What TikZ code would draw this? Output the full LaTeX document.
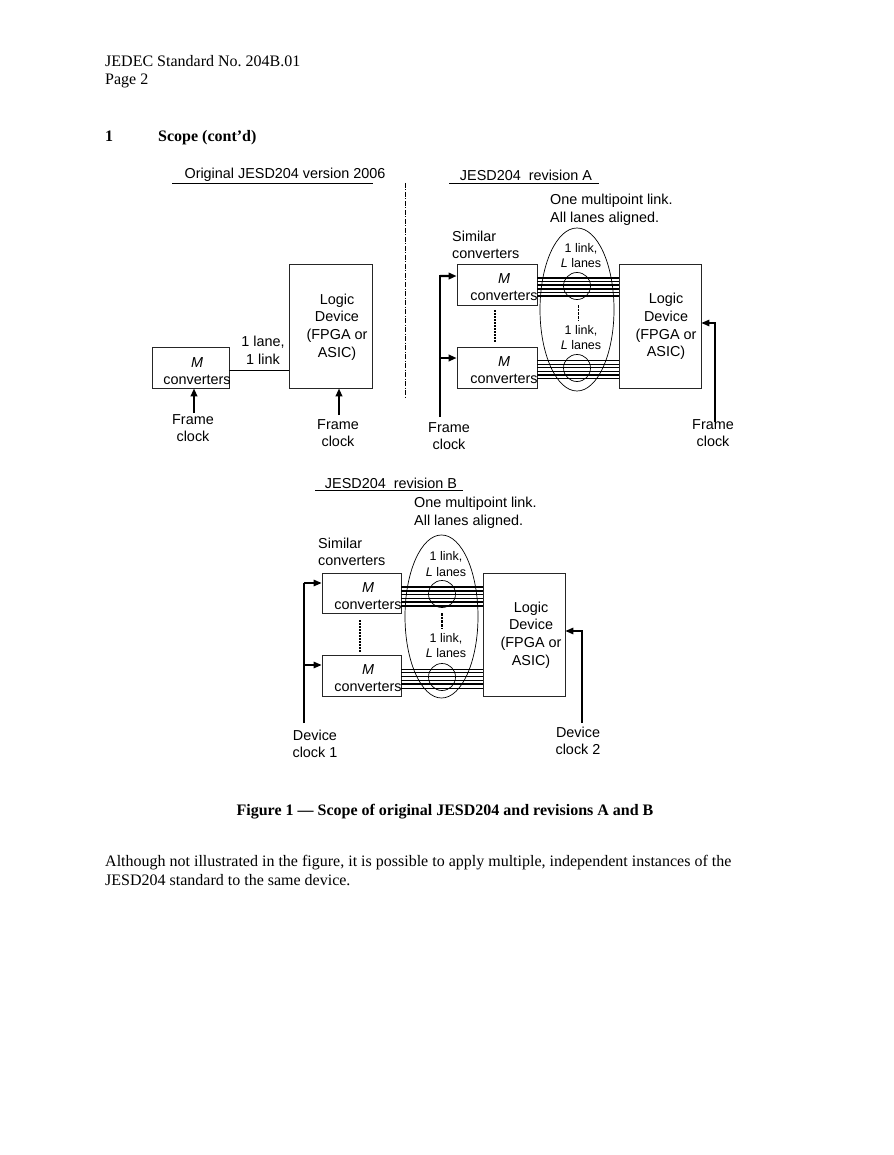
\documentclass[tikz,border=0pt]{standalone}
\usepackage{fontspec}
\setmainfont{Liberation Serif}
\newfontfamily\arialf{Liberation Sans}
\usetikzlibrary{arrows.meta,shapes.geometric}
\newcommand\dgm{\arialf\fontsize{14.4}{17.6}\selectfont}
\newcommand\dgs{\arialf\fontsize{12.5}{15.6}\selectfont}
\newcommand\serf{\fontsize{16}{19}\selectfont}
\frenchspacing
\begin{document}
\begin{tikzpicture}[x=1pt,y=-1pt,
  box/.style={draw=black!85, line width=0.8pt, inner sep=0},
  txt/.style={font=\dgm, align=center, inner sep=0},
  stxt/.style={font=\dgs, align=center, inner sep=0},
  lft/.style={font=\dgm, align=left, inner sep=0, anchor=west},
  ser/.style={font=\serf, inner sep=0, anchor=base west},
  tip/.style={-{Triangle[length=8pt,width=6.5pt]}},
  clkthick/.style={tip, line width=2.2pt},
  clkthin/.style={tip, line width=1.4pt},
  lane/.style={line width=1.5pt},
  lanethin/.style={line width=0.7pt},
  thinline/.style={line width=0.8pt},
  ell/.style={draw, line width=0.7pt},
  divider/.style={line width=1pt, dash pattern=on 5pt off 1.5pt on 1pt off 1.5pt},
  dotv/.style={line width=1.3pt, dash pattern=on 2pt off 1pt}
]
\path[use as bounding box, fill=white] (0,0) rectangle (893,1155);

% header
\node[ser] (h1) at (105,67) {JEDEC Standard No. 204B.01};
\node[ser] (h2) at (105,85) {Page 2};
\node[ser, font=\serf\bfseries] (s1) at (105,142) {1};
\node[ser, font=\serf\bfseries] (s2) at (158,142) {Scope (cont’d)};

% ---------------- Original ----------------
\node[txt] (tO) at (285,175) {Original JESD204 version 2006};
\coordinate (uO1) at (172,183); \coordinate (uO2) at (373,183);
\draw[thinline] (uO1) -- (uO2);

\node[box, minimum width=77pt, minimum height=41pt] (oM) at (190.4,367.5) {};
\node[txt] (oMt) at (197,371) {\itshape M\\converters};
\node[box, minimum width=83pt, minimum height=124pt] (oL) at (330.5,326) {};
\node[txt] (oLt) at (337,327) {Logic\\Device\\(FPGA or\\ASIC)};
\draw[thinline] (oM.east |- 0,370) -- (oL.west |- 0,370);
\node[txt] (oLink) at (263,350) {1 lane,\\1 link};

\node[txt] (oFc1) at (193,428) {Frame\\clock};
\node[txt] (oFc2) at (338,433) {Frame\\clock};
\coordinate (oa1) at (194,413); \coordinate (oa2) at (339,415);
\draw[clkthick] (oa1) -- (oa1 |- oM.south);
\draw[clkthick] (oa2) -- (oa2 |- oL.south);

% divider
\coordinate (d1) at (405,183); \coordinate (d2) at (405,398);
\draw[divider] (d1) -- (d2);

% ---------------- Revision A ----------------
\node[txt] (tA) at (526,175) {JESD204\ \ revision A};
\coordinate (uA1) at (449,183); \coordinate (uA2) at (599,183);
\draw[thinline] (uA1) -- (uA2);
\node[lft] (oneA) at (550,210) {One multipoint link.\\All lanes aligned.};
\node[lft] (simA) at (452,245) {Similar\\converters};

\node[box, minimum width=80pt, minimum height=41pt] (mA1) at (497,284.5) {};
\node[txt] (mA1t) at (504,287) {\itshape M\\converters};
\node[box, minimum width=80pt, minimum height=41pt] (mA2) at (497,367.5) {};
\node[txt] (mA2t) at (504,370) {\itshape M\\converters};
\draw[dotv] (495,310) -- (495,343);

\node[box, minimum width=82pt, minimum height=124pt] (LA) at (660,326) {};
\node[txt] (LAt) at (666,326.5) {Logic\\Device\\(FPGA or\\ASIC)};

\foreach \y in {278,281.6,285.2,288.8,292.4,296}
  \draw[lane] (mA1.east |- 0,\y) -- (LA.west |- 0,\y);
\foreach \y/\s in {360.5/lanethin,364.1/lanethin,367.7/lanethin,371.3/lanethin,374.9/lane,378.5/lane}
  \draw[\s] (mA2.east |- 0,\y) -- (LA.west |- 0,\y);

\node[ell, ellipse, minimum width=74pt, minimum height=163pt, inner sep=0] (eA) at (577,309.5) {};
\draw[ell] (577,286) circle[radius=13.5pt];
\draw[ell] (577,368) circle[radius=13.5pt];
\node[stxt] (kA1) at (581,255.5) {1 link,\\\itshape L\upshape\ lanes};
\node[stxt] (kA2) at (581,337.5) {1 link,\\\itshape L\upshape\ lanes};
\draw[line width=1pt, dash pattern=on 2.5pt off 1.2pt] (578,305) -- (578,321);

\coordinate (fA) at (440,417);
\draw[line width=2.2pt] (fA) -- (440,275);
\draw[clkthick] (440,276.1) -- (mA1.west |- 0,276);
\draw[clkthick] (440,358) -- (mA2.west |- 0,358);
\node[txt] (fAt) at (449,436) {Frame\\clock};

\coordinate (fA2) at (715,422);
\draw[clkthin] (fA2) |- (LA.east |- 0,323);
\node[txt] (fA2t) at (713,433) {Frame\\clock};

% ---------------- Revision B ----------------
\node[txt] (tB) at (391,483) {JESD204\ \ revision B};
\coordinate (uB1) at (315,490); \coordinate (uB2) at (463,490);
\draw[thinline] (uB1) -- (uB2);
\node[lft] (oneB) at (414,513) {One multipoint link.\\All lanes aligned.};
\node[lft] (simB) at (318,552) {Similar\\converters};

\node[box, minimum width=79pt, minimum height=40pt] (mB1) at (361.5,593) {};
\node[txt] (mB1t) at (368,596) {\itshape M\\converters};
\node[box, minimum width=79pt, minimum height=41pt] (mB2) at (361.5,675.5) {};
\node[txt] (mB2t) at (368,678) {\itshape M\\converters};
\draw[dotv] (360,620) -- (360,652);

\node[box, minimum width=82pt, minimum height=123pt] (LB) at (524,634.5) {};
\node[txt] (LBt) at (531,635) {Logic\\Device\\(FPGA or\\ASIC)};

\foreach \y in {587,590.8,594.6,598.4,602.2,606}
  \draw[lane] (mB1.east |- 0,\y) -- (LB.west |- 0,\y);
\foreach \y/\s in {669/lanethin,672.8/lanethin,676.6/lanethin,680.4/lane,684.2/lane,688/lanethin}
  \draw[\s] (mB2.east |- 0,\y) -- (LB.west |- 0,\y);

\node[ell, ellipse, minimum width=73pt, minimum height=163pt, inner sep=0] (eB) at (441.5,616.5) {};
\draw[ell] (442,594) circle[radius=13.5pt];
\draw[ell] (442,677) circle[radius=13.5pt];
\node[stxt] (kB1) at (446,564) {1 link,\\\itshape L\upshape\ lanes};
\node[stxt] (kB2) at (446,645.5) {1 link,\\\itshape L\upshape\ lanes};
\draw[line width=1.3pt, dash pattern=on 2.5pt off 1.2pt] (442,613) -- (442,629);

\coordinate (fB) at (304,723);
\draw[line width=1.3pt] (fB) -- (304,583);
\draw[clkthin] (303.5,583) -- (mB1.west |- 0,583);
\draw[clkthin] (303.5,665) -- (mB2.west |- 0,665);
\node[txt] (fBt) at (315,744) {Device\\clock 1};

\coordinate (fB2) at (582,723);
\draw[clkthin] (fB2) |- (LB.east |- 0,631);
\node[txt] (fB2t) at (578,741) {Device\\clock 2};

% caption and text
\node[inner sep=0, anchor=base, font=\serf\bfseries] (cap) at (445,815) {Figure 1 — Scope of original JESD204 and revisions A and B};
\node[ser] (p1) at (105,866) {Although not illustrated in the figure, it is possible to apply multiple, independent instances of the};
\node[ser] (p2) at (105,885) {JESD204 standard to the same device.};
\end{tikzpicture}
\end{document}
